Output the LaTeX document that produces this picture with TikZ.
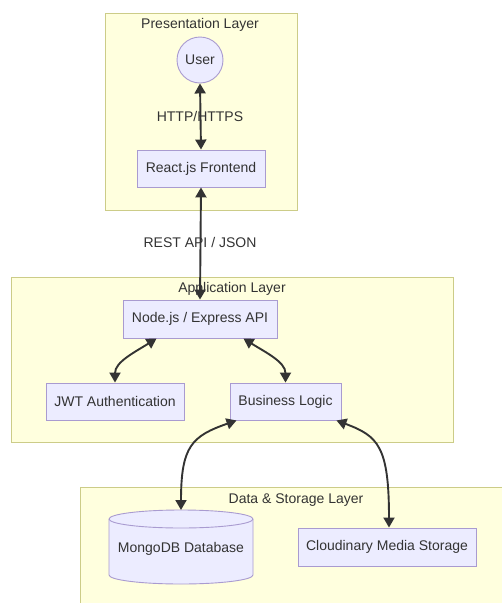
\documentclass[tikz,border=0pt]{standalone}
\usepackage{fontspec}
\setmainfont{Liberation Sans}
\usetikzlibrary{arrows.meta,calc}
\definecolor{clfill}{HTML}{FFFFDE}
\definecolor{cldraw}{HTML}{CCCC88}
\definecolor{ndfill}{HTML}{ECECFF}
\definecolor{nddraw}{HTML}{A99BD0}
\definecolor{txt}{HTML}{333333}
\definecolor{ln}{HTML}{333333}
\tikzset{
  cluster/.style={fill=clfill,draw=cldraw,line width=0.8pt},
  ctitle/.style={text=txt,font=\fontsize{14}{16}\selectfont,inner sep=0pt},
  box/.style={rectangle,fill=ndfill,draw=nddraw,line width=0.9pt,text=txt,font=\fontsize{14}{16}\selectfont,inner sep=0pt},
  elabel/.style={text=txt,font=\fontsize{14}{16}\selectfont,inner sep=1pt},
  link/.style={draw=ln,line width=1.9pt,{Triangle[length=10pt,width=11pt]}-{Triangle[length=10pt,width=11pt]}}
}
\begin{document}
\begin{tikzpicture}[x=1pt,y=-1pt]
\useasboundingbox[clip] (0,0) rectangle (502,603);
\fill[white] (0,0) rectangle (502,603);
% clusters
\draw[cluster] (105,13) rectangle (297,210);
\node[ctitle] (pt) at (200,25) {Presentation Layer};
\draw[cluster] (11,277) rectangle (453,442);
\node[ctitle] (at) at (232,289) {Application Layer};
\draw[cluster] (80,487) rectangle (512,610);
\node[ctitle] (dt) at (296,500) {Data \& Storage Layer};
% nodes
\node[box,circle,minimum size=46pt] (user) at (200,60) {User};
\node[box,minimum width=128pt,minimum height=37pt] (react) at (201,168.5) {React.js Frontend};
\node[box,minimum width=154pt,minimum height=38pt] (api) at (200,319) {Node.js / Express API};
\node[box,minimum width=138pt,minimum height=37pt] (jwt) at (115,401.5) {JWT Authentication};
\node[box,minimum width=111pt,minimum height=37pt] (bl) at (285.5,401.5) {Business Logic};
\node[box,minimum width=178pt,minimum height=38pt] (cloud) at (387,547) {Cloudinary Media Storage};
% cylinder
\filldraw[fill=ndfill,draw=nddraw,line width=0.9pt]
  (109,519) -- (109,575) arc[start angle=180,end angle=0,x radius=72,y radius=9]
  -- (253,519) arc[start angle=0,end angle=-180,x radius=72,y radius=9] -- cycle;
\draw[draw=nddraw,line width=0.9pt] (109,519) arc[start angle=180,end angle=0,x radius=72,y radius=9];
\node[text=txt,font=\fontsize{14}{16}\selectfont,inner sep=0pt] (mongo) at (181,549) {MongoDB Database};
\coordinate (mongotop) at (181,510);
% edges
\draw[link] (user.south) -- (react.north);
\node[elabel] (l1) at (200,116) {HTTP/HTTPS};
\draw[link] (react.south) -- (api.north);
\node[elabel] (l2) at (200,242) {REST API / JSON};
\draw[link] ([xshift=34pt]api.south west) .. controls (135,352) and (115,362) .. (jwt.north);
\draw[link] ([xshift=-34pt]api.south east) .. controls (265,352) and (285.5,362) .. (bl.north);
\draw[link] ([xshift=7pt]bl.south west) .. controls (192,436) and (181,446) .. (mongotop);
\draw[link] ([xshift=-5pt]bl.south east) .. controls (378,436) and (389,446) .. (cloud.north -| 389,0);
\end{tikzpicture}
\end{document}
